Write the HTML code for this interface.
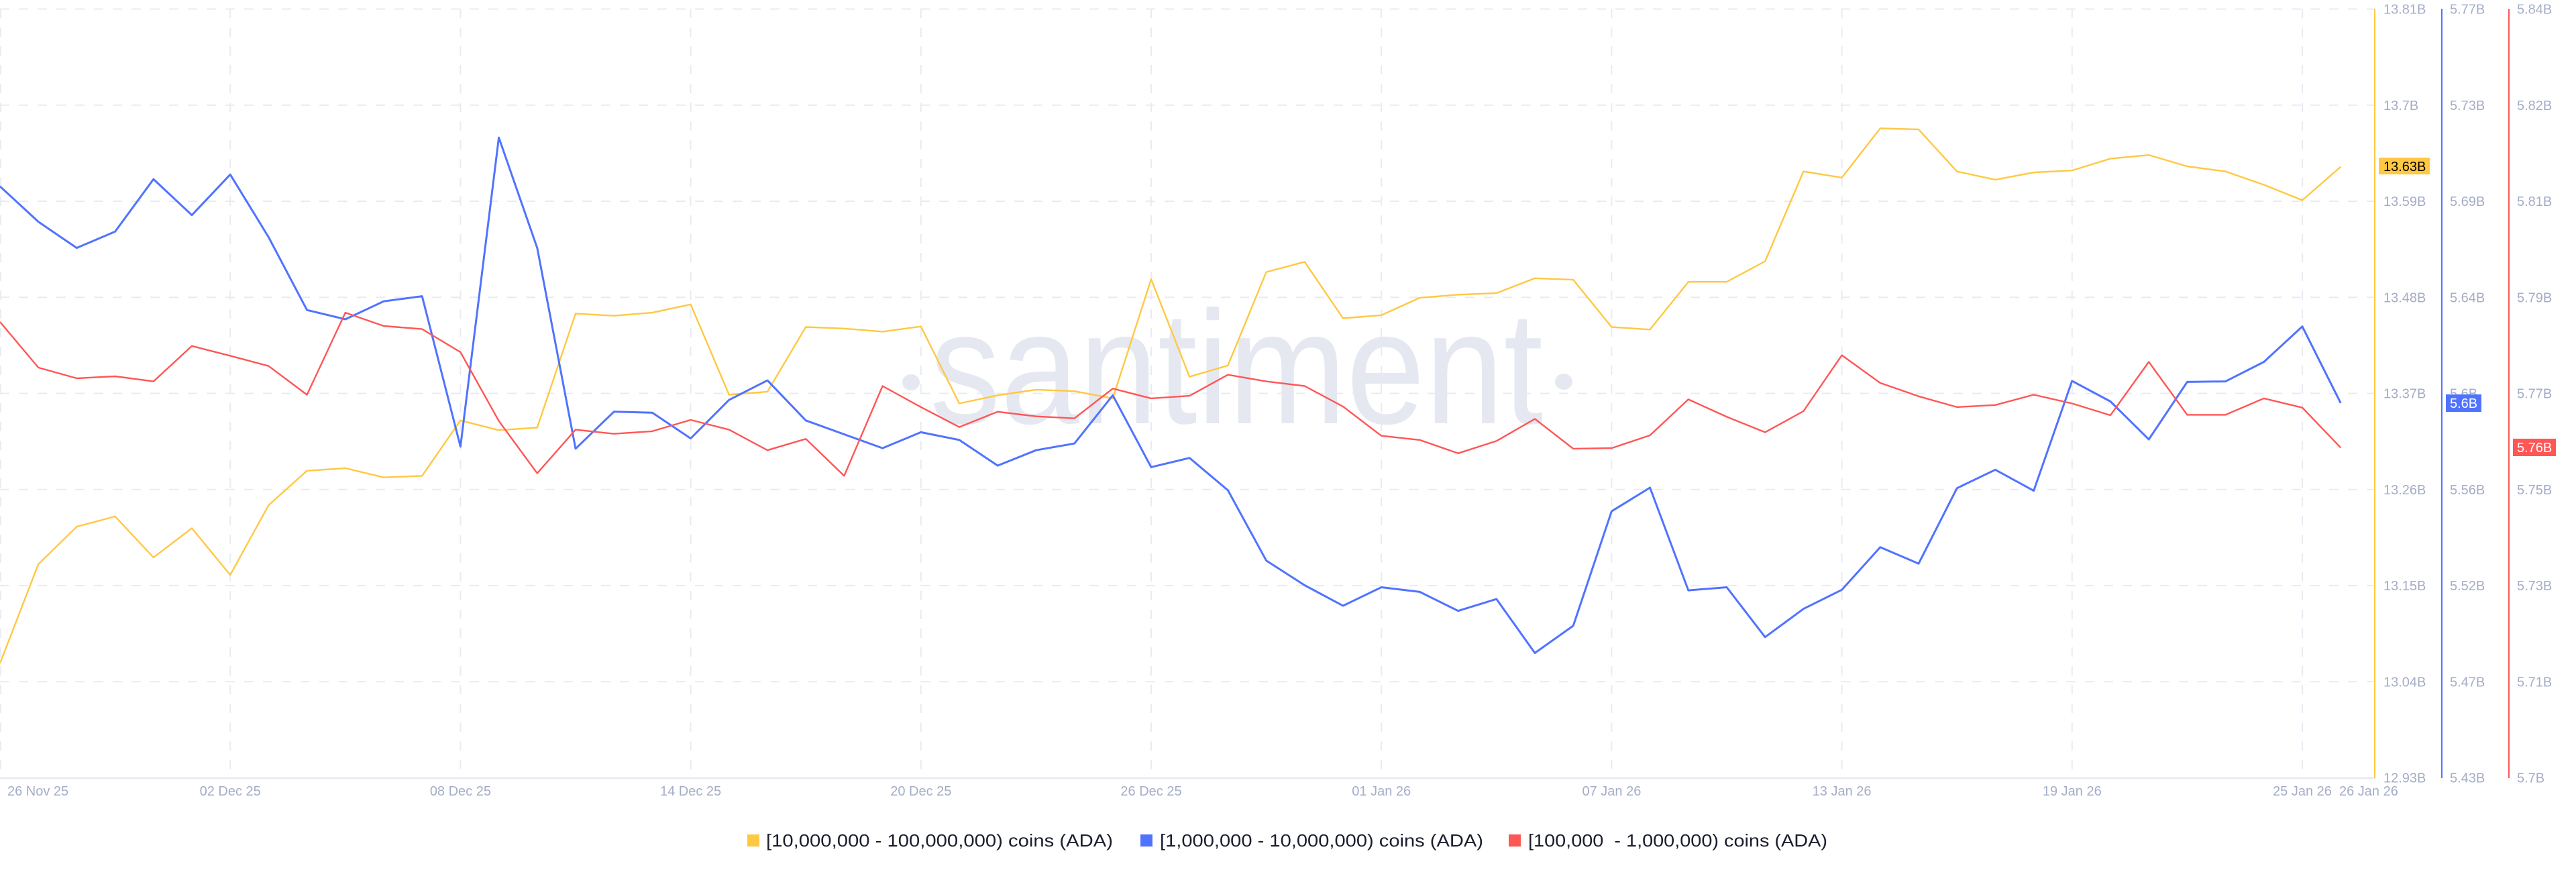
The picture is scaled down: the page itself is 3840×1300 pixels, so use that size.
<!DOCTYPE html>
<html>
<head>
<meta charset="utf-8">
<style>
  html, body { margin: 0; padding: 0; background: #ffffff; }
  svg { display: block; }
  text { font-family: "Liberation Sans", Arial, sans-serif; }
</style>
</head>
<body>
<svg width="3840" height="1300" viewBox="0 0 3840 1300" xmlns="http://www.w3.org/2000/svg">
  <rect x="0" y="0" width="3840" height="1300" fill="#ffffff"/>

  <!-- horizontal dashed grid -->
  <g stroke="#e9ebf3" stroke-width="2" stroke-dasharray="14 14" fill="none">
    <line x1="0" y1="13.5" x2="3540" y2="13.5"/>
    <line x1="0" y1="156.8" x2="3540" y2="156.8"/>
    <line x1="0" y1="300" x2="3540" y2="300"/>
    <line x1="0" y1="443.3" x2="3540" y2="443.3"/>
    <line x1="0" y1="586.5" x2="3540" y2="586.5"/>
    <line x1="0" y1="729.8" x2="3540" y2="729.8"/>
    <line x1="0" y1="873" x2="3540" y2="873"/>
    <line x1="0" y1="1016.3" x2="3540" y2="1016.3"/>
  </g>
  <!-- vertical dashed grid -->
  <g stroke="#e9ebf3" stroke-width="2" stroke-dasharray="14 14" fill="none">
    <line x1="1" y1="13" x2="1" y2="1159"/>
    <line x1="343.2" y1="13" x2="343.2" y2="1159"/>
    <line x1="686.4" y1="13" x2="686.4" y2="1159"/>
    <line x1="1029.6" y1="13" x2="1029.6" y2="1159"/>
    <line x1="1372.8" y1="13" x2="1372.8" y2="1159"/>
    <line x1="1716" y1="13" x2="1716" y2="1159"/>
    <line x1="2059.2" y1="13" x2="2059.2" y2="1159"/>
    <line x1="2402.4" y1="13" x2="2402.4" y2="1159"/>
    <line x1="2745.6" y1="13" x2="2745.6" y2="1159"/>
    <line x1="3088.8" y1="13" x2="3088.8" y2="1159"/>
    <line x1="3432" y1="13" x2="3432" y2="1159"/>
  </g>
  <!-- bottom axis -->
  <line x1="0" y1="1160" x2="3540" y2="1160" stroke="#e3e6ef" stroke-width="2"/>

  <!-- watermark -->
  <g fill="#e6e8f1">
    <ellipse cx="1358" cy="570" rx="13" ry="12"/>
    <text x="1386" y="631" font-size="240" textLength="914" lengthAdjust="spacingAndGlyphs">santiment</text>
    <ellipse cx="2331" cy="569" rx="13" ry="12"/>
  </g>

  <!-- series -->
  <polyline fill="none" stroke="#ffc842" stroke-width="2.4" stroke-linejoin="round" points="0,988.8 57.2,841.1 114.4,785.2 171.6,769.9 228.8,831.1 286,787.5 343.2,857.1 400.4,753.1 457.6,701.8 514.8,698 572,711.7 629.2,709.4 686.4,626.8 743.6,641.3 800.8,637.5 858,467.6 915.2,470.7 972.4,466.1 1029.6,453.8 1086.8,588.5 1144,583.9 1201.2,487.5 1258.4,489.8 1315.6,494.4 1372.8,486.7 1430,601.5 1487.2,589.3 1544.4,580.9 1601.6,583.2 1658.8,593.9 1716,416.3 1773.2,561.7 1830.4,544.9 1887.6,405.6 1944.8,390.3 2002,474.5 2059.2,469.9 2116.4,443.9 2173.6,439.3 2230.8,437 2288,414.8 2345.2,417.1 2402.4,487.5 2459.6,491.3 2516.8,420.2 2574,420.2 2631.2,389.5 2688.4,255.6 2745.6,264.8 2802.8,191.3 2860,192.9 2917.2,255.6 2974.4,267.9 3031.6,257.1 3088.8,254.1 3146,236.5 3203.2,231.1 3260.4,248 3317.6,255.6 3374.8,275.5 3432,298.5 3489.2,248.7"/>
  <polyline fill="none" stroke="#5073ff" stroke-width="3" stroke-linejoin="round" points="0,277.8 57.2,330.6 114.4,369.6 171.6,345.2 228.8,267.1 286,320.7 343.2,260.2 400.4,353.6 457.6,462.2 514.8,476 572,449.2 629.2,441.6 686.4,665.8 743.6,205.1 800.8,369.6 858,668.9 915.2,613.8 972.4,615.3 1029.6,653.6 1086.8,596.2 1144,567.1 1201.2,626.8 1258.4,647.5 1315.6,668.1 1372.8,644.4 1430,655.9 1487.2,694.1 1544.4,671.2 1601.6,661.2 1658.8,589.3 1716,696.4 1773.2,682.7 1830.4,730.9 1887.6,835.7 1944.8,872.5 2002,903.1 2059.2,875.5 2116.4,882.4 2173.6,910.7 2230.8,893.1 2288,973.5 2345.2,932.9 2402.4,762.2 2459.6,727 2516.8,880.1 2574,875.5 2631.2,949.8 2688.4,907.7 2745.6,879.3 2802.8,815.8 2860,840.3 2917.2,727.8 2974.4,700.3 3031.6,731.6 3088.8,567.9 3146,598.5 3203.2,655.1 3260.4,569.4 3317.6,568.6 3374.8,539.5 3432,486.7 3489.2,600.8"/>
  <polyline fill="none" stroke="#ff5656" stroke-width="2.4" stroke-linejoin="round" points="0,479.9 57.2,548 114.4,564 171.6,561 228.8,568.6 286,515.8 343.2,530.4 400.4,545.7 457.6,588.5 514.8,466.1 572,486 629.2,490.6 686.4,525 743.6,627.6 800.8,705.6 858,640.6 915.2,646.7 972.4,642.9 1029.6,626 1086.8,640.6 1144,671.2 1201.2,654.3 1258.4,709.4 1315.6,575.5 1372.8,606.9 1430,636.7 1487.2,613.8 1544.4,620.7 1601.6,623.7 1658.8,579.3 1716,593.9 1773.2,590.1 1830.4,558.7 1887.6,568.6 1944.8,575.5 2002,606.1 2059.2,649.7 2116.4,655.9 2173.6,675.8 2230.8,657.4 2288,624.5 2345.2,668.9 2402.4,668.1 2459.6,649 2516.8,595.4 2574,621.4 2631.2,644.4 2688.4,613 2745.6,529.6 2802.8,570.9 2860,590.8 2917.2,606.9 2974.4,603.8 3031.6,588.5 3088.8,601.5 3146,619.1 3203.2,539.5 3260.4,618.4 3317.6,618.4 3374.8,593.9 3432,607.7 3489.2,667.4"/>

  <!-- axis lines -->
  <line x1="3540" y1="13" x2="3540" y2="1160" stroke="#ffc842" stroke-width="2"/>
  <line x1="3640" y1="13" x2="3640" y2="1160" stroke="#5073ff" stroke-width="2"/>
  <line x1="3740" y1="13" x2="3740" y2="1160" stroke="#ff5656" stroke-width="2"/>

  <!-- axis tick labels -->
  <g font-size="20" fill="#a4adc7">
    <text x="3553" y="20.5">13.81B</text>
    <text x="3553" y="163.8">13.7B</text>
    <text x="3553" y="307">13.59B</text>
    <text x="3553" y="450.3">13.48B</text>
    <text x="3553" y="593.5">13.37B</text>
    <text x="3553" y="736.8">13.26B</text>
    <text x="3553" y="880">13.15B</text>
    <text x="3553" y="1023.3">13.04B</text>
    <text x="3553" y="1166.5">12.93B</text>

    <text x="3652" y="20.5">5.77B</text>
    <text x="3652" y="163.8">5.73B</text>
    <text x="3652" y="307">5.69B</text>
    <text x="3652" y="450.3">5.64B</text>
    <text x="3652" y="593.5">5.6B</text>
    <text x="3652" y="736.8">5.56B</text>
    <text x="3652" y="880">5.52B</text>
    <text x="3652" y="1023.3">5.47B</text>
    <text x="3652" y="1166.5">5.43B</text>

    <text x="3752" y="20.5">5.84B</text>
    <text x="3752" y="163.8">5.82B</text>
    <text x="3752" y="307">5.81B</text>
    <text x="3752" y="450.3">5.79B</text>
    <text x="3752" y="593.5">5.77B</text>
    <text x="3752" y="736.8">5.75B</text>
    <text x="3752" y="880">5.73B</text>
    <text x="3752" y="1023.3">5.71B</text>
    <text x="3752" y="1166.5">5.7B</text>
  </g>

  <!-- last value badges -->
  <rect x="3546" y="235" width="76" height="25" fill="#ffc842"/>
  <text x="3553" y="255" font-size="20" fill="#000000">13.63B</text>
  <rect x="3646" y="588" width="53" height="26" fill="#5073ff"/>
  <text x="3652" y="608" font-size="20" fill="#ffffff">5.6B</text>
  <rect x="3746" y="654" width="64" height="26" fill="#ff5656"/>
  <text x="3752" y="674" font-size="20" fill="#ffffff">5.76B</text>

  <!-- x-axis labels -->
  <g font-size="20" fill="#a4adc7" text-anchor="middle">
    <text x="11" y="1186" text-anchor="start">26 Nov 25</text>
    <text x="343.2" y="1186">02 Dec 25</text>
    <text x="686.4" y="1186">08 Dec 25</text>
    <text x="1029.6" y="1186">14 Dec 25</text>
    <text x="1372.8" y="1186">20 Dec 25</text>
    <text x="1716" y="1186">26 Dec 25</text>
    <text x="2059.2" y="1186">01 Jan 26</text>
    <text x="2402.4" y="1186">07 Jan 26</text>
    <text x="2745.6" y="1186">13 Jan 26</text>
    <text x="3088.8" y="1186">19 Jan 26</text>
    <text x="3432" y="1186">25 Jan 26</text>
    <text x="3487" y="1186" text-anchor="start">26 Jan 26</text>
  </g>

  <!-- legend -->
  <rect x="1114" y="1244" width="18" height="18" fill="#ffc842"/>
  <text x="1142" y="1262" font-size="26" fill="#1b1e2e" textLength="517" lengthAdjust="spacingAndGlyphs" style="white-space:pre">[10,000,000 - 100,000,000) coins (ADA)</text>
  <rect x="1700" y="1244" width="18" height="18" fill="#5073ff"/>
  <text x="1729" y="1262" font-size="26" fill="#1b1e2e" textLength="482" lengthAdjust="spacingAndGlyphs" style="white-space:pre">[1,000,000 - 10,000,000) coins (ADA)</text>
  <rect x="2249" y="1244" width="18" height="18" fill="#ff5656"/>
  <text x="2278" y="1262" font-size="26" fill="#1b1e2e" textLength="446" lengthAdjust="spacingAndGlyphs" style="white-space:pre">[100,000  - 1,000,000) coins (ADA)</text>
</svg>
</body>
</html>
